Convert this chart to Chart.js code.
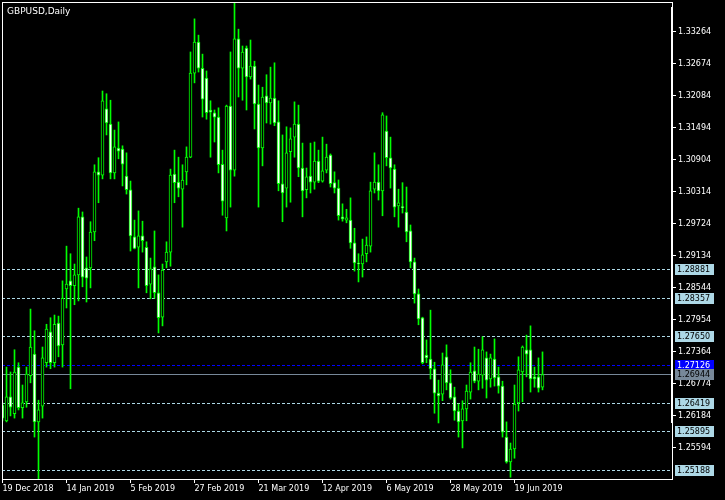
<!DOCTYPE html>
<html>
<head>
<meta charset="utf-8">
<script src="https://cdn.jsdelivr.net/npm/chart.js@4/dist/chart.umd.min.js"></script>
<style>
  html, body { margin: 0; padding: 0; background: #000; }
  canvas { display: block; }
</style>
</head>
<body>
<canvas id="myChart" width="725" height="500"></canvas>
<script>
// GBPUSD daily candles, 19 Dec 2018 .. end of Jun 2019
const open = [
  1.2638, 1.2609, 1.2653, 1.2622, 1.2708, 1.2633, 1.2644, 1.2692, 1.2732, 1.2607,
  1.2636, 1.2716, 1.2773, 1.2716, 1.2789, 1.2749, 1.2852, 1.2867, 1.2858, 1.2878,
  1.2985, 1.2891, 1.2891, 1.2957, 1.3068, 1.3062, 1.3184, 1.3156, 1.3066, 1.3112,
  1.3110, 1.3060, 1.3035, 1.2948, 1.2929, 1.2950, 1.2929, 1.2861, 1.2893, 1.2845,
  1.2800, 1.2902, 1.2920, 1.3064, 1.3049, 1.3036, 1.3068, 1.3095, 1.3250, 1.3307,
  1.3259, 1.3241, 1.3182, 1.3177, 1.3169, 1.3082, 1.2983, 1.3189, 1.3071, 1.3313,
  1.3259, 1.3296, 1.3243, 1.3263, 1.3193, 1.3112, 1.3208, 1.3195, 1.3204, 1.3160,
  1.3046, 1.3038, 1.3105, 1.3132, 1.3156, 1.3075, 1.3035, 1.3060, 1.3049, 1.3088,
  1.3051, 1.3071, 1.3099, 1.3048, 1.3038, 1.2985, 1.2979, 1.2979, 1.2937, 1.2900,
  1.2898, 1.2917, 1.2931, 1.3036, 1.3049, 1.3033, 1.3143, 1.3094, 1.3073, 1.3005,
  1.3003, 1.2994, 1.2959, 1.2902, 1.2843, 1.2799, 1.2730, 1.2723, 1.2705, 1.2660,
  1.2658, 1.2727, 1.2679, 1.2653, 1.2627, 1.2609, 1.2631, 1.2662, 1.2701, 1.2682,
  1.2693, 1.2725, 1.2686, 1.2723, 1.2690, 1.2673, 1.2579, 1.2533, 1.2557, 1.2642,
  1.2699, 1.2740, 1.2740, 1.2690, 1.2690, 1.2671
];
const high = [
  1.2642, 1.2708, 1.2699, 1.2740, 1.2716, 1.2675, 1.2708, 1.2815, 1.2775, 1.2647,
  1.2745, 1.2787, 1.2799, 1.2804, 1.2802, 1.2867, 1.2931, 1.2917, 1.2898, 1.3001,
  1.2994, 1.2911, 1.2976, 1.3081, 1.3094, 1.3217, 1.3212, 1.3200, 1.3145, 1.3160,
  1.3116, 1.3103, 1.3051, 1.2979, 1.2996, 1.2977, 1.2939, 1.2909, 1.2959, 1.2878,
  1.2898, 1.2939, 1.3073, 1.3108, 1.3095, 1.3081, 1.3114, 1.3289, 1.3350, 1.3320,
  1.3285, 1.3254, 1.3199, 1.3182, 1.3186, 1.3108, 1.3191, 1.3289, 1.3379, 1.3331,
  1.3300, 1.3300, 1.3311, 1.3272, 1.3228, 1.3224, 1.3247, 1.3261, 1.3269, 1.3199,
  1.3136, 1.3151, 1.3149, 1.3197, 1.3191, 1.3121, 1.3075, 1.3121, 1.3123, 1.3108,
  1.3132, 1.3119, 1.3101, 1.3068, 1.3053, 1.3009, 1.2999, 1.3020, 1.2964, 1.2917,
  1.2944, 1.2948, 1.3049, 1.3103, 1.3081, 1.3177, 1.3171, 1.3132, 1.3081, 1.3036,
  1.3048, 1.3040, 1.2970, 1.2909, 1.2852, 1.2800, 1.2758, 1.2813, 1.2717, 1.2684,
  1.2734, 1.2749, 1.2703, 1.2671, 1.2640, 1.2646, 1.2675, 1.2716, 1.2745, 1.2741,
  1.2764, 1.2736, 1.2732, 1.2760, 1.2708, 1.2682, 1.2607, 1.2568, 1.2675, 1.2727,
  1.2747, 1.2767, 1.2784, 1.2708, 1.2725, 1.2736
];
const low = [
  1.2609, 1.2607, 1.2618, 1.2614, 1.2629, 1.2614, 1.2634, 1.2679, 1.2579, 1.2502,
  1.2614, 1.2708, 1.2705, 1.2708, 1.2727, 1.2708, 1.2817, 1.2668, 1.2823, 1.2830,
  1.2856, 1.2828, 1.2854, 1.2941, 1.3011, 1.3055, 1.3136, 1.3055, 1.3055, 1.3092,
  1.3042, 1.3027, 1.2922, 1.2926, 1.2854, 1.2920, 1.2845, 1.2834, 1.2835, 1.2771,
  1.2784, 1.2891, 1.2894, 1.3011, 1.3022, 1.2966, 1.3044, 1.3094, 1.3232, 1.3252,
  1.3169, 1.3165, 1.3095, 1.3123, 1.3066, 1.2988, 1.2959, 1.3003, 1.3060, 1.3206,
  1.3200, 1.3182, 1.3239, 1.3147, 1.3003, 1.3079, 1.3158, 1.3156, 1.3153, 1.3033,
  1.2976, 1.3003, 1.3012, 1.3095, 1.3059, 1.2985, 1.3020, 1.3029, 1.3036, 1.3048,
  1.3049, 1.3066, 1.3040, 1.3029, 1.2979, 1.2977, 1.2974, 1.2927, 1.2885, 1.2865,
  1.2874, 1.2902, 1.2920, 1.3029, 1.3016, 1.2987, 1.3079, 1.3038, 1.2985, 1.2966,
  1.2992, 1.2939, 1.2891, 1.2826, 1.2786, 1.2714, 1.2716, 1.2686, 1.2623, 1.2605,
  1.2646, 1.2666, 1.2649, 1.2610, 1.2579, 1.2559, 1.2609, 1.2649, 1.2679, 1.2666,
  1.2669, 1.2651, 1.2671, 1.2673, 1.2660, 1.2579, 1.2531, 1.2505, 1.2540, 1.2627,
  1.2644, 1.2690, 1.2662, 1.2671, 1.2662, 1.2666
];
const close = [
  1.2614, 1.2653, 1.2634, 1.2699, 1.2633, 1.2642, 1.2695, 1.2745, 1.2607, 1.2629,
  1.2725, 1.2778, 1.2716, 1.2787, 1.2747, 1.2835, 1.2861, 1.2858, 1.2878, 1.2985,
  1.2874, 1.2872, 1.2957, 1.3068, 1.3062, 1.3199, 1.3158, 1.3066, 1.3114, 1.3106,
  1.3082, 1.3035, 1.2950, 1.2927, 1.2950, 1.2941, 1.2858, 1.2889, 1.2845, 1.2799,
  1.2887, 1.2920, 1.3062, 1.3048, 1.3038, 1.3053, 1.3095, 1.3250, 1.3307, 1.3259,
  1.3202, 1.3177, 1.3178, 1.3169, 1.3081, 1.3014, 1.3189, 1.3071, 1.3313, 1.3259,
  1.3289, 1.3243, 1.3263, 1.3193, 1.3112, 1.3206, 1.3195, 1.3204, 1.3158, 1.3046,
  1.3029, 1.3103, 1.3129, 1.3156, 1.3075, 1.3033, 1.3059, 1.3049, 1.3088, 1.3051,
  1.3070, 1.3095, 1.3046, 1.3038, 1.2987, 1.2981, 1.2983, 1.2937, 1.2900, 1.2898,
  1.2915, 1.2933, 1.3033, 1.3049, 1.3033, 1.3173, 1.3094, 1.3075, 1.3003, 1.3011,
  1.3002, 1.2957, 1.2902, 1.2843, 1.2797, 1.2716, 1.2725, 1.2705, 1.2660, 1.2655,
  1.2712, 1.2679, 1.2651, 1.2627, 1.2607, 1.2631, 1.2664, 1.2699, 1.2682, 1.2695,
  1.2740, 1.2684, 1.2725, 1.2688, 1.2673, 1.2588, 1.2533, 1.2557, 1.2640, 1.2703,
  1.2745, 1.2732, 1.2686, 1.2686, 1.2669, 1.2694
];

// axis labels
const dateLabels = ['19 Dec 2018', '14 Jan 2019', '5 Feb 2019', '27 Feb 2019', '21 Mar 2019',
                    '12 Apr 2019', '6 May 2019', '28 May 2019', '19 Jun 2019'];
const dateStep = 16;
const priceTicks = [1.25594, 1.26184, 1.26774, 1.27364, 1.27954, 1.28544, 1.29134,
                    1.29724, 1.30314, 1.30904, 1.31494, 1.32084, 1.32674, 1.33264];

// horizontal levels
const levels = [1.28881, 1.28357, 1.27650, 1.26419, 1.25895, 1.25188];
const blueLevel = 1.27126;
const bidPrice = 1.26944;

const FONT = '"DejaVu Sans", sans-serif';

var bodies = open.map((o, i) => ({ x: i, y: [o, close[i]] }));
var wicks = low.map((l, i) => ({ x: i, y: [l, high[i]] }));
var bodyColors = open.map((o, i) => close[i] < o ? '#ffffff' : '#000000');

const mt4Plugin = {
  id: 'mt4',
  beforeDatasetsDraw(chart) {
    const ctx = chart.ctx, a = chart.chartArea, y = chart.scales.y;
    ctx.save();
    ctx.lineWidth = 1;
    ctx.setLineDash([3, 2]);
    ctx.strokeStyle = '#add8e6';
    levels.forEach(v => {
      const py = Math.round(y.getPixelForValue(v)) + 0.5;
      ctx.beginPath(); ctx.moveTo(a.left, py); ctx.lineTo(a.right, py); ctx.stroke();
    });
    ctx.strokeStyle = '#0000ff';
    let py = Math.round(y.getPixelForValue(blueLevel)) + 0.5;
    ctx.beginPath(); ctx.moveTo(a.left, py); ctx.lineTo(a.right, py); ctx.stroke();
    ctx.setLineDash([]);
    ctx.strokeStyle = '#778899';
    py = Math.round(y.getPixelForValue(bidPrice)) + 0.5;
    ctx.beginPath(); ctx.moveTo(a.left, py); ctx.lineTo(a.right, py); ctx.stroke();
    ctx.restore();
  },
  afterDraw(chart) {
    const ctx = chart.ctx, a = chart.chartArea, y = chart.scales.y;
    ctx.save();
    // frame
    ctx.strokeStyle = '#ffffff';
    ctx.lineWidth = 1;
    ctx.strokeRect(a.left + 0.5, a.top + 0.5, a.right - a.left, a.bottom - a.top);
    ctx.fillStyle = '#ffffff';
    ctx.fillRect(a.right - 1, 7, 2, 416);
    // title
    ctx.font = '9px ' + FONT;
    ctx.textBaseline = 'alphabetic';
    ctx.textAlign = 'left';
    ctx.fillText('GBPUSD,Daily', 7, 14);
    // price boxes
    const box = (v, bg, fg) => {
      const py = Math.round(y.getPixelForValue(v));
      ctx.fillStyle = bg;
      ctx.fillRect(a.right + 3, py - 5, 39, 11);
      ctx.fillStyle = fg;
      ctx.font = '8px ' + FONT;
      ctx.textBaseline = 'middle';
      ctx.fillText(v.toFixed(5), a.right + 5, py + 1);
    };
    levels.forEach(v => box(v, '#add8e6', '#000000'));
    box(blueLevel, '#0000ff', '#ffffff');
    box(bidPrice, '#778899', '#000000');
    ctx.restore();
  }
};

var ctx = document.getElementById('myChart').getContext('2d');
window.myChart = new Chart(ctx, {
  type: 'bar',
  data: {
    datasets: [
      {
        label: 'body',
        data: bodies,
        backgroundColor: bodyColors,
        borderColor: '#00ff00',
        borderWidth: 1,
        borderSkipped: false,
        barThickness: 3,
        minBarLength: 1,
        grouped: false
      },
      {
        label: 'wick',
        data: wicks,
        backgroundColor: '#00ff00',
        borderWidth: 0,
        barThickness: 1,
        grouped: false
      }
    ]
  },
  options: {
    responsive: false,
    animation: false,
    devicePixelRatio: 1,
    layout: { padding: { left: 2, top: 2, right: 0, bottom: 0 } },
    plugins: {
      legend: { display: false },
      tooltip: { enabled: false },
      title: { display: false }
    },
    scales: {
      x: {
        type: 'linear',
        offset: false,
        min: -0.125,
        max: 167.375,
        afterFit: s => { s.height = 21; s.paddingLeft = 0; s.paddingRight = 0; },
        afterBuildTicks: s => { s.ticks = dateLabels.map((_, k) => ({ value: k * dateStep })); },
        border: { display: false },
        grid: { display: true, offset: false, drawOnChartArea: false, drawTicks: true, tickLength: 4, color: '#ffffff' },
        ticks: {
          autoSkip: false,
          maxRotation: 0,
          align: 'start',
          padding: 1,
          color: '#ffffff',
          font: { family: FONT, size: 8 },
          callback: (v, idx) => dateLabels[idx]
        }
      },
      y: {
        type: 'linear',
        position: 'right',
        min: 1.25017,
        max: 1.33811,
        afterFit: s => { s.width = 53; s.paddingTop = 0; s.paddingBottom = 0; },
        afterBuildTicks: s => { s.ticks = priceTicks.map(v => ({ value: v })); },
        border: { display: false },
        grid: { display: true, drawOnChartArea: false, drawTicks: true, tickLength: 4, color: '#ffffff' },
        ticks: {
          padding: 2,
          color: '#ffffff',
          font: { family: FONT, size: 8 },
          callback: v => v.toFixed(5)
        }
      }
    }
  },
  plugins: [mt4Plugin]
});
</script>
</body>
</html>
